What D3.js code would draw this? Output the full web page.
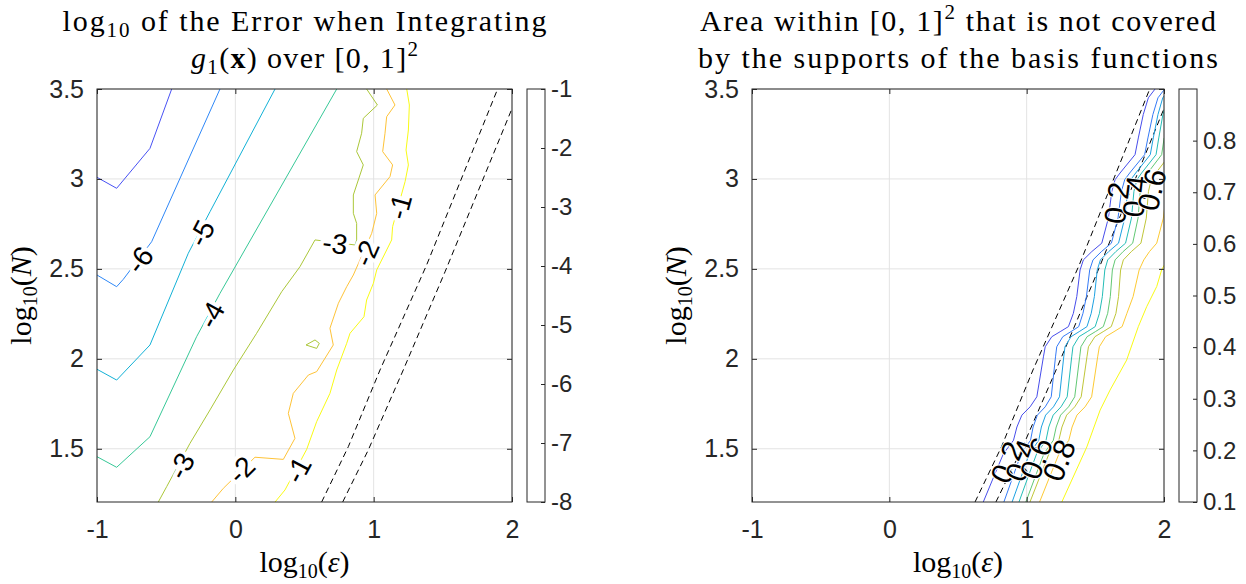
<!DOCTYPE html>
<html><head><meta charset="utf-8">
<script src="https://cdn.jsdelivr.net/npm/d3@7"></script>
<style>body{margin:0;background:#fff}svg{display:block}</style>
</head><body>
<svg id="c" width="1246" height="584"></svg>
<script>
// ---------------- data ----------------
const xTicks = [-1, 0, 1, 2];
const yTicks = [1.5, 2, 2.5, 3, 3.5];
const xDomain = [-1, 2];
const yDomain = [1.2041, 3.5];
const errCbarTicks = [-1, -2, -3, -4, -5, -6, -7, -8];
const errCbarDomain = [-8, -1];
const areaCbarTicks = [0.1, 0.2, 0.3, 0.4, 0.5, 0.6, 0.7, 0.8];
const areaCbarDomain = [0.1, 0.9];

// left panel: log10 error contour lines  [log10(eps), log10(N)]
const errM7 = [[-0.460,3.5],[-0.617,3.170],[-0.858,2.948],[-1,3.009]];
const errM6 = [[-0.111,3.5],[-0.605,2.651],[-0.810,2.442],[-0.858,2.401],[-1,2.466]];
const errM5 = [[0.287,3.5],[-0.183,2.818],[-0.340,2.587],[-0.617,2.077],[-0.858,1.882],[-1,1.942]];
const errM4 = [[0.733,3.5],[-0.111,2.364],[-0.280,2.123],[-0.617,1.567],[-0.858,1.397],[-1,1.456]];
const errM3 = [[-0.557,1.204],[-0.496,1.290],[-0.328,1.530],[-0.183,1.716],[-0.014,1.938],[0.154,2.142],[0.335,2.373],[0.467,2.512],[0.576,2.661],[0.865,2.633],[0.877,2.661],[0.877,2.753],[0.853,2.809],[0.853,2.911],[0.889,2.994],[0.925,3.078],[0.877,3.152],[0.913,3.254],[0.925,3.337],[1.027,3.411],[0.949,3.5]];
const errM3island = [[0.511,2.077],[0.576,2.105],[0.607,2.086],[0.588,2.058],[0.511,2.077]];
const errM2 = [[1.094,3.5],[1.154,3.411],[1.094,3.346],[1.082,3.254],[1.065,3.152],[1.137,3.078],[1.118,3.013],[1.010,2.911],[1.022,2.809],[0.986,2.698],[0.853,2.466],[0.805,2.401],[0.745,2.309],[0.684,2.170],[0.708,2.077],[0.588,1.929],[0.528,1.910],[0.419,1.808],[0.383,1.697],[0.431,1.558],[0.347,1.441],[0.142,1.453],[-0.087,1.280],[-0.171,1.204]];
const errM1 = [[1.239,3.5],[1.258,3.411],[1.251,3.272],[1.234,3.161],[1.251,3.078],[1.227,2.985],[1.137,2.735],[1.130,2.661],[1.094,2.605],[1.022,2.494],[0.998,2.420],[0.949,2.327],[0.930,2.234],[0.829,2.142],[0.805,2.086],[0.733,1.938],[0.684,1.808],[0.588,1.651],[0.516,1.497],[0.359,1.271],[0.287,1.204]];
const errLines = [
  {level:-7, pts:errM7}, {level:-6, pts:errM6}, {level:-5, pts:errM5},
  {level:-4, pts:errM4}, {level:-3, pts:errM3}, {level:-3, pts:errM3island},
  {level:-2, pts:errM2}, {level:-1, pts:errM1}
];
const errLabels = [
  {t:"-6", level:-6, x:-0.689, y:2.549},
  {t:"-5", level:-5, x:-0.243, y:2.698},
  {t:"-4", level:-4, x:-0.171, y:2.244},
  {t:"-3", level:-3, x:-0.388, y:1.404},
  {t:"-2", level:-2, x:0.046, y:1.382},
  {t:"-1", level:-1, x:0.455, y:1.382},
  {t:"-3", level:-3, x:0.720, y:2.640},
  {t:"-2", level:-2, x:0.949, y:2.587},
  {t:"-1", level:-1, x:1.190, y:2.846}
];

// dashed boundary curves (both panels)
const boundA = [[0.624,1.204],[0.817,1.512],[1.046,1.938],[1.383,2.522],[1.896,3.5]];
const boundB = [[0.776,1.204],[0.961,1.493],[1.214,1.938],[1.516,2.484],[2.010,3.410]];

// right panel: uncovered-area contour lines
const area02 = [[0.684,1.204],[0.771,1.364],[0.831,1.473],[0.904,1.547],[0.929,1.621],[0.965,1.687],[1.025,1.733],[1.074,1.789],[1.122,2.011],[1.135,2.067],[1.183,2.123],[1.244,2.151],[1.304,2.179],[1.340,2.253],[1.365,2.346],[1.389,2.494],[1.413,2.550],[1.474,2.596],[1.547,2.643],[1.595,2.782],[1.620,2.931],[1.644,2.996],[1.680,3.033],[1.789,3.135],[1.813,3.228],[1.849,3.358],[1.886,3.451],[1.935,3.5]];
const area03 = [[0.834,1.204],[0.909,1.364],[0.960,1.473],[1.028,1.547],[1.047,1.621],[1.078,1.687],[1.135,1.733],[1.179,1.789],[1.210,2.011],[1.219,2.067],[1.263,2.123],[1.322,2.151],[1.379,2.179],[1.410,2.253],[1.435,2.346],[1.459,2.494],[1.483,2.550],[1.544,2.596],[1.617,2.643],[1.665,2.782],[1.690,2.931],[1.714,2.996],[1.750,3.033],[1.859,3.135],[1.883,3.228],[1.919,3.358],[1.956,3.451],[2.005,3.5]];
const area04 = [[0.894,1.204],[0.969,1.364],[1.020,1.473],[1.088,1.547],[1.107,1.621],[1.138,1.687],[1.195,1.733],[1.239,1.789],[1.270,2.011],[1.279,2.067],[1.323,2.123],[1.382,2.151],[1.439,2.179],[1.470,2.253],[1.493,2.346],[1.514,2.494],[1.537,2.550],[1.597,2.596],[1.669,2.643],[1.714,2.782],[1.736,2.931],[1.758,2.996],[1.794,3.033],[1.900,3.135],[1.922,3.228],[1.956,3.358],[1.991,3.451],[2.039,3.5]];
const area05 = [[0.944,1.204],[1.020,1.364],[1.073,1.473],[1.141,1.547],[1.161,1.621],[1.193,1.687],[1.250,1.733],[1.295,1.789],[1.328,2.011],[1.337,2.067],[1.381,2.123],[1.441,2.151],[1.499,2.179],[1.530,2.253],[1.551,2.346],[1.569,2.494],[1.590,2.550],[1.649,2.596],[1.720,2.643],[1.763,2.782],[1.781,2.931],[1.803,2.996],[1.837,3.033],[1.942,3.135],[1.962,3.228],[1.992,3.358],[2.025,3.451]];
const area06 = [[0.994,1.204],[1.072,1.364],[1.126,1.473],[1.194,1.547],[1.215,1.621],[1.247,1.687],[1.305,1.733],[1.350,1.789],[1.386,2.011],[1.395,2.067],[1.440,2.123],[1.500,2.151],[1.558,2.179],[1.590,2.253],[1.609,2.346],[1.624,2.494],[1.644,2.550],[1.702,2.596],[1.772,2.643],[1.811,2.782],[1.827,2.931],[1.847,2.996],[1.881,3.033],[1.983,3.135],[2.001,3.228]];
const area07 = [[1.024,1.204],[1.106,1.364],[1.163,1.473],[1.234,1.547],[1.257,1.621],[1.291,1.687],[1.350,1.733],[1.397,1.789],[1.439,2.011],[1.450,2.067],[1.497,2.123],[1.557,2.151],[1.616,2.179],[1.650,2.253],[1.669,2.346],[1.684,2.494],[1.704,2.550],[1.762,2.596],[1.832,2.643],[1.871,2.782],[1.887,2.931],[1.907,2.996],[1.941,3.033],[2.043,3.135]];
const area08 = [[1.094,1.204],[1.178,1.364],[1.236,1.473],[1.307,1.547],[1.331,1.621],[1.366,1.687],[1.425,1.733],[1.473,1.789],[1.517,2.011],[1.529,2.067],[1.575,2.123],[1.636,2.151],[1.695,2.179],[1.730,2.253],[1.775,2.346],[1.819,2.494],[1.853,2.550],[1.894,2.596],[1.947,2.643],[1.995,2.782],[2.020,2.931]];
const area09 = [[1.256,1.204],[1.438,1.510],[1.535,1.715],[1.607,1.826],[1.728,1.993],[1.813,2.179],[1.874,2.290],[1.947,2.402],[1.983,2.495],[2.010,2.532]];
const areaLines = [
  {level:0.2, pts:area02}, {level:0.3, pts:area03}, {level:0.4, pts:area04},
  {level:0.5, pts:area05}, {level:0.6, pts:area06}, {level:0.7, pts:area07},
  {level:0.8, pts:area08}, {level:0.9, pts:area09}
];
const areaLabels = [
  {t:"0.2", level:0.2, x:0.858, y:1.425},
  {t:"0.4", level:0.4, x:0.960, y:1.436},
  {t:"0.6", level:0.6, x:1.069, y:1.447},
  {t:"0.8", level:0.8, x:1.236, y:1.436},
  {t:"0.2", level:0.2, x:1.656, y:2.866},
  {t:"0.4", level:0.4, x:1.789, y:2.903},
  {t:"0.6", level:0.6, x:1.911, y:2.940}
];

// parula colormap anchors
const parulaStops = ["#3e26a8","#4852f4","#2e87f7","#12b1d6","#37c897","#abc739","#fec338","#f9fb15"];

// ---------------- drawing ----------------
const svg = d3.select("#c");
const AX = "#262626", GRID = "#e3e3e3";
const sans = "'Liberation Sans', Arial, Helvetica, sans-serif";
const serif = "'Liberation Serif', 'Times New Roman', serif";

function parula(dom) {
  return d3.scaleLinear().domain([0,1,2,3,4,5,6,7].map(i => dom[0] + (dom[1]-dom[0])*i/7))
    .range(parulaStops).interpolate(d3.interpolateRgb).clamp(true);
}

function panel(cfg) {
  const x = d3.scaleLinear().domain(xDomain).range([cfg.left, cfg.right]);
  const y = d3.scaleLinear().domain(yDomain).range([cfg.bottom, cfg.top]);
  const g = svg.append("g");
  const clipId = "clip" + cfg.id;
  svg.append("clipPath").attr("id", clipId).append("rect")
    .attr("x", cfg.left).attr("y", cfg.top)
    .attr("width", cfg.right - cfg.left).attr("height", cfg.bottom - cfg.top);

  g.selectAll(".gx").data(xTicks).join("line")
    .attr("x1", d => x(d)).attr("x2", d => x(d)).attr("y1", cfg.top).attr("y2", cfg.bottom)
    .attr("stroke", GRID).attr("stroke-width", 1);
  g.selectAll(".gy").data(yTicks).join("line")
    .attr("y1", d => y(d)).attr("y2", d => y(d)).attr("x1", cfg.left).attr("x2", cfg.right)
    .attr("stroke", GRID).attr("stroke-width", 1);

  const line = d3.line().x(d => x(d[0])).y(d => y(d[1]));
  const plot = g.append("g").attr("clip-path", `url(#${clipId})`);

  plot.selectAll(".bd").data([boundA, boundB]).join("path")
    .attr("d", line).attr("fill", "none").attr("stroke", "#000")
    .attr("stroke-width", 1).attr("stroke-dasharray", "6,4");

  const col = parula(cfg.cdom);
  plot.selectAll(".ct").data(cfg.lines).join("path")
    .attr("d", d => line(d.pts)).attr("fill", "none")
    .attr("stroke", d => col(d.level)).attr("stroke-width", 1);

  cfg.labels.forEach(L => {
    const px = x(L.x), py = y(L.y);
    let best = null, bd = Infinity;
    cfg.lines.filter(l => l.level === L.level).forEach(l => {
      for (let i = 0; i < l.pts.length - 1; i++) {
        const ax = x(l.pts[i][0]), ay = y(l.pts[i][1]);
        const bx = x(l.pts[i+1][0]), by = y(l.pts[i+1][1]);
        const dx = bx - ax, dy = by - ay;
        const len2 = dx*dx + dy*dy || 1;
        let t = ((px-ax)*dx + (py-ay)*dy) / len2; t = Math.max(0, Math.min(1, t));
        const qx = ax + t*dx, qy = ay + t*dy;
        const dd = (qx-px)**2 + (qy-py)**2;
        if (dd < bd) { bd = dd; best = [dx, dy]; }
      }
    });
    let ang = Math.atan2(best[1], best[0]) * 180 / Math.PI;
    if (ang > 90) ang -= 180;
    if (ang <= -90) ang += 180;
    g.append("text").attr("transform", `translate(${px},${py}) rotate(${ang})`)
      .attr("text-anchor", "middle").attr("dominant-baseline", "central")
      .attr("font-family", sans).attr("font-size", cfg.labelSize).attr("fill", "#000")
      .attr("stroke", "#fff").attr("stroke-width", cfg.halo).attr("paint-order", "stroke")
      .attr("stroke-linejoin", "round")
      .text(L.t);
  });

  g.append("rect").attr("x", cfg.left).attr("y", cfg.top)
    .attr("width", cfg.right - cfg.left).attr("height", cfg.bottom - cfg.top)
    .attr("fill", "none").attr("stroke", AX).attr("stroke-width", 1);

  const fmt = d => String(d);
  const axB = g.append("g").attr("transform", `translate(0,${cfg.bottom})`)
    .call(d3.axisBottom(x).tickValues(xTicks).tickSizeInner(-5).tickSizeOuter(0).tickPadding(18).tickFormat(fmt));
  const axT = g.append("g").attr("transform", `translate(0,${cfg.top})`)
    .call(d3.axisTop(x).tickValues(xTicks).tickSizeInner(-5).tickSizeOuter(0).tickFormat(""));
  const axL = g.append("g").attr("transform", `translate(${cfg.left},0)`)
    .call(d3.axisLeft(y).tickValues(yTicks).tickSizeInner(-5).tickSizeOuter(0).tickPadding(13).tickFormat(fmt));
  const axR = g.append("g").attr("transform", `translate(${cfg.right},0)`)
    .call(d3.axisRight(y).tickValues(yTicks).tickSizeInner(-5).tickSizeOuter(0).tickFormat(""));
  [axB, axT, axL, axR].forEach(a => {
    a.select(".domain").remove();
    a.selectAll("line").attr("stroke", AX);
    a.selectAll("text").attr("font-family", sans).attr("font-size", 25).attr("fill", AX);
  });

  const xl = g.append("text").attr("x", (cfg.left + cfg.right) / 2).attr("y", 572)
    .attr("text-anchor", "middle").attr("font-family", serif).attr("font-size", 30).attr("fill", "#000");
  xl.append("tspan").text("log");
  xl.append("tspan").attr("font-size", 20).attr("dy", 6).text("10");
  xl.append("tspan").attr("dy", -6).text("(");
  xl.append("tspan").attr("font-style", "italic").text("ε");
  xl.append("tspan").text(")");

  const yl = g.append("text").attr("transform", `translate(${cfg.left - 66},${(cfg.top + cfg.bottom) / 2}) rotate(-90)`)
    .attr("text-anchor", "middle").attr("font-family", serif).attr("font-size", 30).attr("fill", "#000");
  yl.append("tspan").text("log");
  yl.append("tspan").attr("font-size", 20).attr("dy", 6).text("10");
  yl.append("tspan").attr("dy", -6).text("(");
  yl.append("tspan").attr("font-style", "italic").text("N");
  yl.append("tspan").text(")");

  const cy = d3.scaleLinear().domain(cfg.cbarDomain).range([cfg.bottom, cfg.top]);
  g.append("rect").attr("x", cfg.cbX).attr("y", cfg.top).attr("width", cfg.cbW)
    .attr("height", cfg.bottom - cfg.top).attr("fill", "#fff").attr("stroke", AX).attr("stroke-width", 1);
  const cax = g.append("g").attr("transform", `translate(${cfg.cbX + cfg.cbW},0)`)
    .call(d3.axisRight(cy).tickValues(cfg.cbarTicks).tickSizeInner(-4).tickSizeOuter(0).tickPadding(6).tickFormat(cfg.cbFmt));
  cax.select(".domain").remove();
  cax.selectAll("line").attr("stroke", AX);
  cax.selectAll("text").attr("font-family", sans).attr("font-size", 24).attr("fill", AX);
}

panel({
  id: "L", left: 97, right: 512, top: 89, bottom: 502, cdom: errCbarDomain,
  lines: errLines, labels: errLabels, labelSize: 28, halo: 8,
  cbX: 527, cbW: 18, cbarDomain: errCbarDomain, cbarTicks: errCbarTicks, cbFmt: d => String(d)
});
panel({
  id: "R", left: 752, right: 1164, top: 89, bottom: 502, cdom: areaCbarDomain,
  lines: areaLines, labels: areaLabels, labelSize: 30, halo: 2,
  cbX: 1179, cbW: 18, cbarDomain: areaCbarDomain, cbarTicks: areaCbarTicks, cbFmt: d3.format(".1f")
});

function title(cx, y, len, build) {
  const t = svg.append("text").attr("x", cx).attr("y", y).attr("text-anchor", "middle")
    .attr("font-family", serif).attr("font-size", 30).attr("fill", "#000")
    .attr("textLength", len).attr("lengthAdjust", "spacing");
  build(t);
}
title(304.5, 31, 484, t => {
  t.append("tspan").text("log");
  t.append("tspan").attr("font-size", 21).attr("dy", 6).text("10");
  t.append("tspan").attr("dy", -6).text(" of the Error when Integrating");
});
title(304.5, 68, 227, t => {
  t.append("tspan").attr("font-style", "italic").text("g");
  t.append("tspan").attr("font-size", 21).attr("dy", 6).text("1");
  t.append("tspan").attr("dy", -6).text("(");
  t.append("tspan").attr("font-weight", "bold").text("x");
  t.append("tspan").text(") over [0, 1]");
  t.append("tspan").attr("font-size", 21).attr("dy", -12).text("2");
});
title(958, 31, 516, t => {
  t.append("tspan").text("Area within [0, 1]");
  t.append("tspan").attr("font-size", 21).attr("dy", -12).text("2");
  t.append("tspan").attr("dy", 12).text(" that is not covered");
});
title(958, 68, 520, t => {
  t.append("tspan").text("by the supports of the basis functions");
});
</script>
</body></html>
